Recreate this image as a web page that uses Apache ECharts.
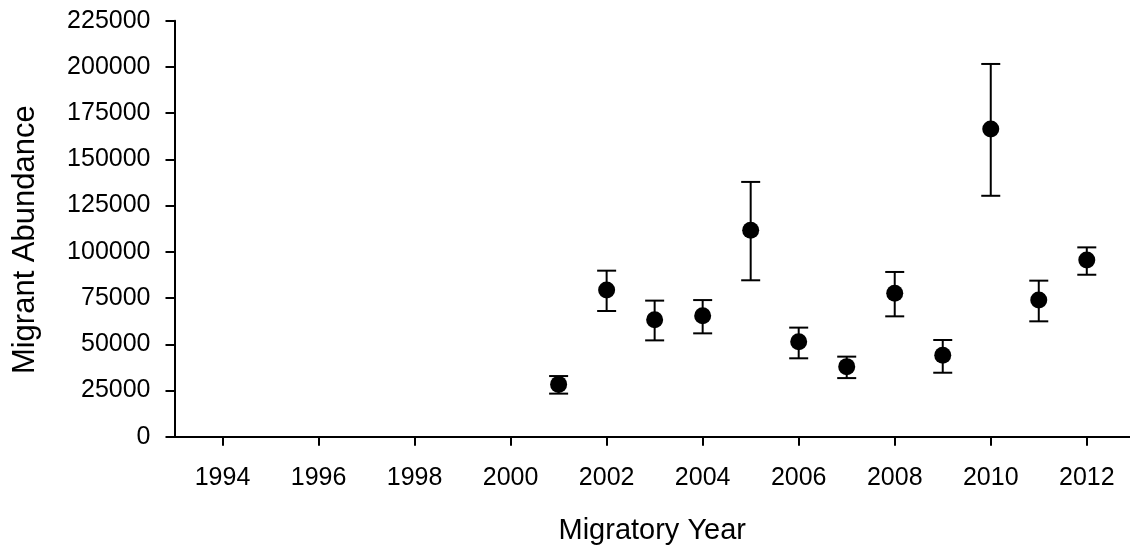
<!DOCTYPE html>
<html>
<head>
<meta charset="utf-8">
<script src="https://cdn.jsdelivr.net/npm/echarts@6/dist/echarts.min.js"></script>
<style>
  html, body { margin: 0; padding: 0; background: #fff; }
  #chart { width: 1130px; height: 555px; }
</style>
</head>
<body>
<div id="chart"></div>
<script>
// Migrant abundance estimates by migratory year, with lower/upper bounds
const years = [2001, 2002, 2003, 2004, 2005, 2006, 2007, 2008, 2009, 2010, 2011, 2012];
const abundance = [28300, 79300, 63300, 65400, 111600, 51400, 37900, 77600, 44000, 166400, 73900, 95600];
const lowerBound = [23300, 68000, 52100, 55900, 84600, 42400, 31700, 65100, 34600, 130300, 62400, 87600];
const upperBound = [32800, 89800, 73600, 73900, 137800, 59000, 43300, 89100, 52300, 201600, 84400, 102400];
const yearTicks = [1994, 1996, 1998, 2000, 2002, 2004, 2006, 2008, 2010, 2012];

const FONT = '"Liberation Sans", Arial, sans-serif';
const chart = echarts.init(document.getElementById('chart'), null, { renderer: 'canvas' });

const points = years.map((y, i) => [y, abundance[i]]);
const bars = years.map((y, i) => [y, lowerBound[i], upperBound[i]]);

function renderErrorBar(params, api) {
  const x = api.value(0);
  const lo = api.coord([x, api.value(1)]);
  const hi = api.coord([x, api.value(2)]);
  const half = 9.5;
  const style = { stroke: '#000', lineWidth: 2, fill: null };
  return {
    type: 'group',
    children: [
      { type: 'line', shape: { x1: lo[0], y1: lo[1], x2: hi[0], y2: hi[1] }, style },
      { type: 'line', shape: { x1: lo[0] - half, y1: lo[1], x2: lo[0] + half, y2: lo[1] }, style },
      { type: 'line', shape: { x1: hi[0] - half, y1: hi[1], x2: hi[0] + half, y2: hi[1] }, style }
    ]
  };
}

chart.setOption({
  animation: false,
  backgroundColor: '#fff',
  grid: { left: 174.5, right: 0, top: 20.7, bottom: 118.3, containLabel: false },
  xAxis: {
    type: 'value',
    min: 1993,
    max: 2012.9,
    name: 'Migratory Year',
    nameLocation: 'middle',
    nameGap: 80,
    nameTextStyle: { fontFamily: FONT, fontSize: 29, color: '#000' },
    axisLine: { show: true, onZero: false, lineStyle: { color: '#000', width: 2 } },
    axisTick: { show: true, inside: false, length: 9, customValues: yearTicks, lineStyle: { color: '#000', width: 2 } },
    axisLabel: { customValues: yearTicks, margin: 29, fontFamily: FONT, fontSize: 25, color: '#000',
                 formatter: v => String(v) },
    splitLine: { show: false }
  },
  yAxis: {
    type: 'value',
    min: 0,
    max: 225000,
    interval: 25000,
    name: 'Migrant Abundance',
    nameLocation: 'middle',
    nameRotate: 90,
    nameGap: 134,
    nameTextStyle: { fontFamily: FONT, fontSize: 31, color: '#000', padding: [0, 22, 0, 0] },
    axisLine: { show: true, lineStyle: { color: '#000', width: 2 } },
    axisTick: { show: true, inside: false, length: 9, lineStyle: { color: '#000', width: 2 } },
    axisLabel: { margin: 24, fontFamily: FONT, fontSize: 25, color: '#000', formatter: v => String(v) },
    splitLine: { show: false }
  },
  series: [
    {
      type: 'custom',
      renderItem: renderErrorBar,
      data: bars,
      encode: { x: 0, y: [1, 2] },
      z: 2
    },
    {
      type: 'scatter',
      data: points,
      symbol: 'circle',
      symbolSize: 17,
      itemStyle: { color: '#000', opacity: 1 },
      z: 3
    }
  ]
});
</script>
</body>
</html>
